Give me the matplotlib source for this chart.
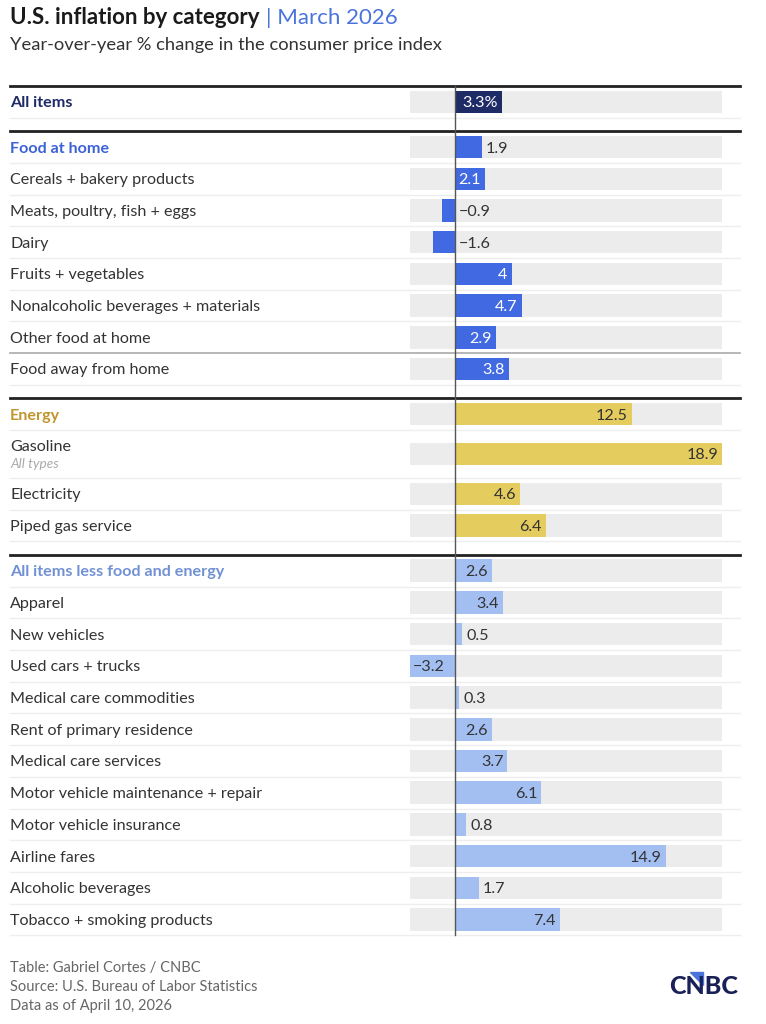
import matplotlib
matplotlib.use("Agg")
import matplotlib.pyplot as plt
from matplotlib.patches import Polygon

plt.rcParams['font.family'] = ['Lato', 'DejaVu Sans']

# data
all_labels = ["All items"]
all_values = [3.3]
food_labels = ["Food at home", "Cereals + bakery products", "Meats, poultry, fish + eggs",
               "Dairy", "Fruits + vegetables", "Nonalcoholic beverages + materials",
               "Other food at home", "Food away from home"]
food_values = [1.9, 2.1, -0.9, -1.6, 4.0, 4.7, 2.9, 3.8]
energy_labels = ["Energy", "Gasoline", "Electricity", "Piped gas service"]
energy_values = [12.5, 18.9, 4.6, 6.4]
core_labels = ["All items less food and energy", "Apparel", "New vehicles", "Used cars + trucks",
               "Medical care commodities", "Rent of primary residence", "Medical care services",
               "Motor vehicle maintenance + repair", "Motor vehicle insurance", "Airline fares",
               "Alcoholic beverages", "Tobacco + smoking products"]
core_values = [2.6, 3.4, 0.5, -3.2, 0.3, 2.6, 3.7, 6.1, 0.8, 14.9, 1.7, 7.4]
sublabels = {"Gasoline": "All types"}

# (labels, values, bar colour, header colour, value text colour inside bar)
groups = [
    (all_labels, all_values, "#1f2b66", "#1f2b66", "white"),
    (food_labels, food_values, "#4169e1", "#3c62d6", "white"),
    (energy_labels, energy_values, "#e5cc5e", "#c2962e", "#333333"),
    (core_labels, core_values, "#a3bff2", "#7191d4", "#333333"),
]

W, H = 766, 1024
fig = plt.figure(figsize=(W / 100, H / 100), dpi=100)
ax = fig.add_axes([0, 0, 1, 1])

all_vals = all_values + food_values + energy_values + core_values
vmin, vmax = min(all_vals), max(all_vals)
px_left, px_right = 410, 722
scale = (px_right - px_left) / (vmax - vmin)
ax.set_xlim(vmin - px_left / scale, vmin + (W - px_left) / scale)
ax.set_ylim(H, 0)
ax.axis('off')

ytr = ax.get_yaxis_transform()
row_h = 31.7
bar_h = 22.5
pad = 4 / scale
line_x0, line_x1 = 10 / W, 740 / W
fs = 11.6
dy = 1.5

y = 86
top = y
for gi, (labels, values, color, hcolor, incolor) in enumerate(groups):
    ax.axhline(y, line_x0, line_x1, color="#222222", lw=2.0, zorder=5)
    for i, (lab, val) in enumerate(zip(labels, values)):
        h = 48 if lab in sublabels else row_h
        yc = y + h / 2
        # background track and bar
        ax.barh(yc, vmax - vmin, left=vmin, height=bar_h, color="#ececec", zorder=1)
        ax.barh(yc, val, left=0, height=bar_h, color=color, zorder=2)
        if i == 0:
            ax.text(10 / W, yc + dy, lab, transform=ytr, ha='left', va='center',
                    fontsize=fs, fontweight='bold', color=hcolor)
        elif lab in sublabels:
            ax.text(10 / W, yc - 7, lab, transform=ytr, ha='left', va='center',
                    fontsize=fs, color="#333333")
            ax.text(10 / W, yc + 10, sublabels[lab], transform=ytr, ha='left', va='center',
                    fontsize=9.8, style='italic', color="#aaaaaa")
        else:
            ax.text(10 / W, yc + dy, lab, transform=ytr, ha='left', va='center',
                    fontsize=fs, color="#333333")
        txt = f"{val:g}%" if gi == 0 else f"{val:g}".replace("-", "\u2212")
        if val >= 2:
            ax.text(val - pad, yc + dy, txt, ha='right', va='center', fontsize=fs,
                    color=incolor, zorder=4)
        elif val <= -2:
            ax.text(val + pad * 0.6, yc + dy, txt, ha='left', va='center', fontsize=fs,
                    color="#333333", zorder=4)
        else:
            ax.text(max(val, 0) + pad, yc + dy, txt, ha='left', va='center', fontsize=fs,
                    color="#333333", zorder=4)
        y += h
        if lab == "Other food at home":
            ax.axhline(y, line_x0, line_x1, color="#aaaaaa", lw=1.2, zorder=3)
        else:
            ax.axhline(y, line_x0, line_x1, color="#eeeeee", lw=1.0, zorder=0)
    if gi < len(groups) - 1:
        y += 13.5
bottom = y

ax.plot([0, 0], [top, bottom], color="#555555", lw=1.0, zorder=6)

# titles
t1 = fig.text(10 / W, 1 - 18 / H, "U.S. inflation by category", fontsize=16, fontweight='bold',
              color="#1a1a1a", va='center', ha='left')
fig.canvas.draw()
bb = t1.get_window_extent()
fig.text((bb.x1 + 6) / W, 1 - 18 / H, "| March 2026", fontsize=16, color="#4a74dc",
         va='center', ha='left')
fig.text(10 / W, 1 - 45 / H, "Year-over-year % change in the consumer price index",
         fontsize=13.2, color="#333333", va='center', ha='left')

# footer
for k, s in enumerate(["Table: Gabriel Cortes / CNBC", "Source: U.S. Bureau of Labor Statistics",
                       "Data as of April 10, 2026"]):
    fig.text(10 / W, 1 - (968 + k * 19) / H, s, fontsize=10.5, color="#666666",
             va='center', ha='left')

fig.text(704 / W, 1 - 987 / H, "CNBC", fontsize=18, fontweight='black', color="#1a2157",
         va='center', ha='center')
fig.patches.append(Polygon([(690 / W, 1 - 972 / H), (703 / W, 1 - 972 / H), (703 / W, 1 - 985 / H)],
                           closed=True, transform=fig.transFigure, color="#4a74dc"))

fig.savefig("out.png", dpi=100, facecolor="white")
